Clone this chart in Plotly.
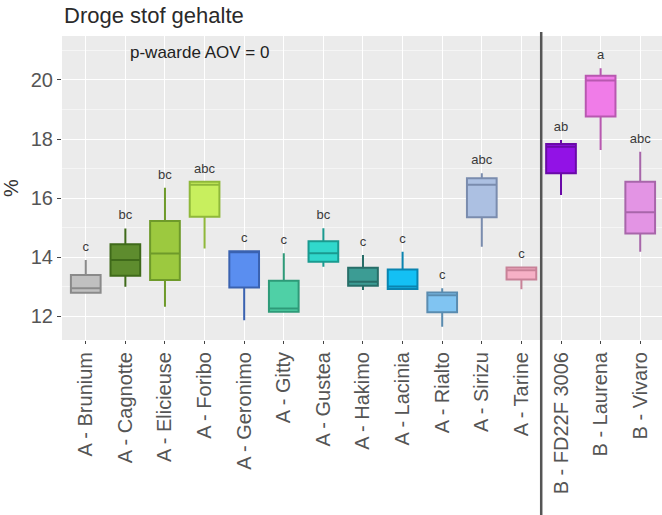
import plotly.graph_objects as go

# Five-number summaries per variety (dry matter %, "Droge stof gehalte")
varieties = ["A - Brunium", "A - Cagnotte", "A - Elicieuse", "A - Foribo", "A - Geronimo",
             "A - Gitty", "A - Gustea", "A - Hakimo", "A - Lacinia", "A - Rialto",
             "A - Sirizu", "A - Tarine", "B - FD22F 3006", "B - Laurena", "B - Vivaro"]
lower_whisker = [12.78, 12.99, 12.32, 14.29, 11.86, 12.15, 13.67, 12.88, 12.92, 11.64, 14.35, 12.91, 16.10, 17.63, 14.18]
q1 = [12.79, 13.37, 13.22, 15.37, 12.97, 12.15, 13.84, 13.03, 12.92, 12.13, 15.35, 13.24, 16.84, 18.76, 14.80]
median = [12.94, 13.90, 14.12, 16.45, 14.16, 12.26, 14.13, 13.16, 13.00, 12.71, 16.45, 13.55, 17.74, 19.98, 15.52]
q3 = [13.39, 14.43, 15.22, 16.55, 14.20, 13.20, 14.54, 13.64, 13.58, 12.80, 16.67, 13.65, 17.83, 20.14, 16.55]
upper_whisker = [13.90, 14.97, 16.35, 16.55, 14.20, 14.13, 14.98, 14.07, 14.18, 12.94, 16.84, 13.65, 17.97, 20.40, 17.57]
groups = ["c", "bc", "bc", "abc", "c", "c", "bc", "c", "c", "c", "abc", "c", "ab", "a", "abc"]

fill_colors = ["#c0c0c0", "#5e8c2e", "#9cc93f", "#c8ef5e", "#5a8ef0", "#4fd0a6", "#30d8cc", "#3c9c94",
               "#14c0f4", "#80c4f2", "#acc0e2", "#f6b0c6", "#9212e6", "#f07ce8", "#e394e4"]
line_colors = ["#8a8a8a", "#3f6a1a", "#6e9a2a", "#8fb83a", "#3a62b0", "#2e9a78", "#1a9a90", "#276e68",
               "#0a84b0", "#5a8cb0", "#7a8cae", "#c88298", "#6a0aa8", "#b858b0", "#a866aa"]

y_ticks = [12, 14, 16, 18, 20]
title_text = "Droge stof gehalte"
note_text = "p-waarde AOV = 0"

fig = go.Figure()
positions = list(range(len(varieties)))

for i, name in enumerate(varieties):
    fig.add_trace(go.Box(
        x=[i], q1=[q1[i]], median=[median[i]], q3=[q3[i]],
        lowerfence=[lower_whisker[i]], upperfence=[upper_whisker[i]],
        width=0.75, whiskerwidth=0,
        fillcolor=fill_colors[i], line=dict(color=line_colors[i], width=2),
        name=name, showlegend=False, hoverinfo="skip",
    ))

# Significance letters above each whisker
fig.add_trace(go.Scatter(
    x=positions, y=[u + 0.42 for u in upper_whisker], mode="text", text=groups,
    textfont=dict(family="Arial, Liberation Sans", size=13, color="#3a3a3a"),
    showlegend=False, hoverinfo="skip",
))

# Separator between group A and group B
fig.add_shape(type="line", xref="x", yref="paper", x0=11.5, x1=11.5, y0=-0.58, y1=1.013,
              line=dict(color="#555555", width=2.5), layer="above")

fig.add_annotation(text=title_text, xref="paper", yref="paper", x=0.0, y=1.0, yshift=6,
                   xanchor="left", yanchor="bottom", showarrow=False,
                   font=dict(family="Arial, Liberation Sans", size=22, color="#2a2a2a"))
fig.add_annotation(text=note_text, xref="paper", yref="paper", x=0.11, y=0.985,
                   xanchor="left", yanchor="top", showarrow=False,
                   font=dict(family="Arial, Liberation Sans", size=17, color="#222222"))

fig.update_layout(
    width=662, height=515,
    margin=dict(l=62, r=0, t=36, b=175),
    paper_bgcolor="white", plot_bgcolor="#ebebeb",
    font=dict(family="Arial, Liberation Sans", color="#4d4d4d"),
    xaxis=dict(range=[-0.6, 14.55], tickmode="array", tickvals=positions, ticktext=varieties,
               tickangle=-90, tickfont=dict(size=20, color="#555555"),
               showgrid=True, gridcolor="white", gridwidth=1.2, zeroline=False,
               ticks="outside", ticklen=3, tickcolor="#444444", showline=False),
    yaxis=dict(range=[11.19, 21.49], tickmode="array", tickvals=y_ticks,
               tickfont=dict(size=20, color="#555555"),
               title=dict(text="%", font=dict(size=20, color="#333333"), standoff=8),
               showgrid=True, gridcolor="white", gridwidth=1.2, zeroline=False,
               minor=dict(dtick=1, tick0=11, showgrid=True, gridcolor="#f5f5f5", gridwidth=0.6),
               ticks="outside", ticklen=4, tickcolor="#444444", showline=False),
)

fig.write_html("out.html")
